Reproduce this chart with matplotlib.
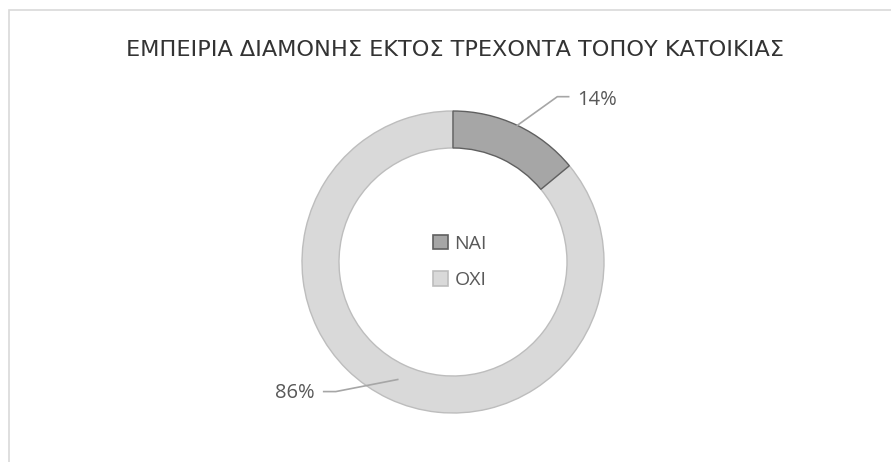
import numpy as np
import matplotlib
matplotlib.use("Agg")
import matplotlib.pyplot as plt
from matplotlib.patches import Rectangle, Patch

title = "ΕΜΠΕΙΡΙΑ ΔΙΑΜΟΝΗΣ ΕΚΤΟΣ ΤΡΕΧΟΝΤΑ ΤΟΠΟΥ ΚΑΤΟΙΚΙΑΣ"
categories = ["ΝΑΙ", "ΟΧΙ"]
values = [14, 86]
colors = ["#a6a6a6", "#d9d9d9"]
edges = ["#606060", "#bdbdbd"]

W, H = 891, 462
fig = plt.figure(figsize=(W / 100, H / 100), dpi=100)
fig.patch.set_facecolor("white")

# chart border
fig.add_artist(Rectangle((9 / W, -0.1), 1.2, 1.1 - 10 / H, transform=fig.transFigure,
                         fill=False, edgecolor="#d9d9d9", linewidth=1.2))

cx, cy, R = 453, 262, 151
ax = fig.add_axes([0, 0, 1, 1])

wedges, _ = ax.pie(values, colors=colors, startangle=90, counterclock=False,
                   radius=1.0, wedgeprops=dict(width=0.245, linewidth=1.0))
ax.set_aspect("auto")
ax.set_xlim(-cx / R, (W - cx) / R)
ax.set_ylim(-(H - cy) / R, cy / R)
ax.axis("off")
for w, e in zip(wedges, edges):
    w.set_edgecolor(e)
wedges[1].set_zorder(1)
wedges[0].set_zorder(2)

font = "Open Sans"
txtc = "#595959"
for i, (w, v) in enumerate(zip(wedges, values)):
    mid = np.deg2rad((w.theta1 + w.theta2) / 2)
    if i == 0:
        r0 = 1.0
        p0 = (r0 * np.cos(mid), r0 * np.sin(mid))
        p1 = (p0[0] + 0.265, p0[1] + 0.19)
        p2 = (p1[0] + 0.075, p1[1])
        ax.plot([p0[0], p1[0], p2[0]], [p0[1], p1[1], p2[1]], color="#a6a6a6", lw=1.2, zorder=5)
        ax.text(p2[0] + 0.055, p2[1] - 0.02, f"{v}%", ha="left", va="center",
                fontsize=14.5, color=txtc, family=font)
    else:
        r0 = 0.86
        p0 = (r0 * np.cos(mid), r0 * np.sin(mid))
        p1 = (p0[0] - 0.41, p0[1] - 0.08)
        p2 = (p1[0] - 0.08, p1[1])
        ax.plot([p0[0], p1[0], p2[0]], [p0[1], p1[1], p2[1]], color="#a6a6a6", lw=1.2, zorder=5)
        ax.text(p2[0] - 0.06, p2[1] - 0.01, f"{v}%", ha="right", va="center",
                fontsize=14.5, color=txtc, family=font)

handles = [Patch(facecolor=c, edgecolor=e, linewidth=1.2) for c, e in zip(colors, edges)]
leg = ax.legend(handles, categories, loc="center", bbox_to_anchor=(460 / W, 1 - 262 / H),
                bbox_transform=fig.transFigure, frameon=False, handlelength=0.75,
                handleheight=0.75, handletextpad=0.35, labelspacing=0.95,
                prop=dict(family=font, size=14))
for t in leg.get_texts():
    t.set_color(txtc)

fig.text(455 / W, 1 - 50 / H, title, ha="center", va="center", fontsize=16.1,
         color="#333333", family="DejaVu Sans")

fig.savefig("out.png", dpi=100, facecolor="white")
